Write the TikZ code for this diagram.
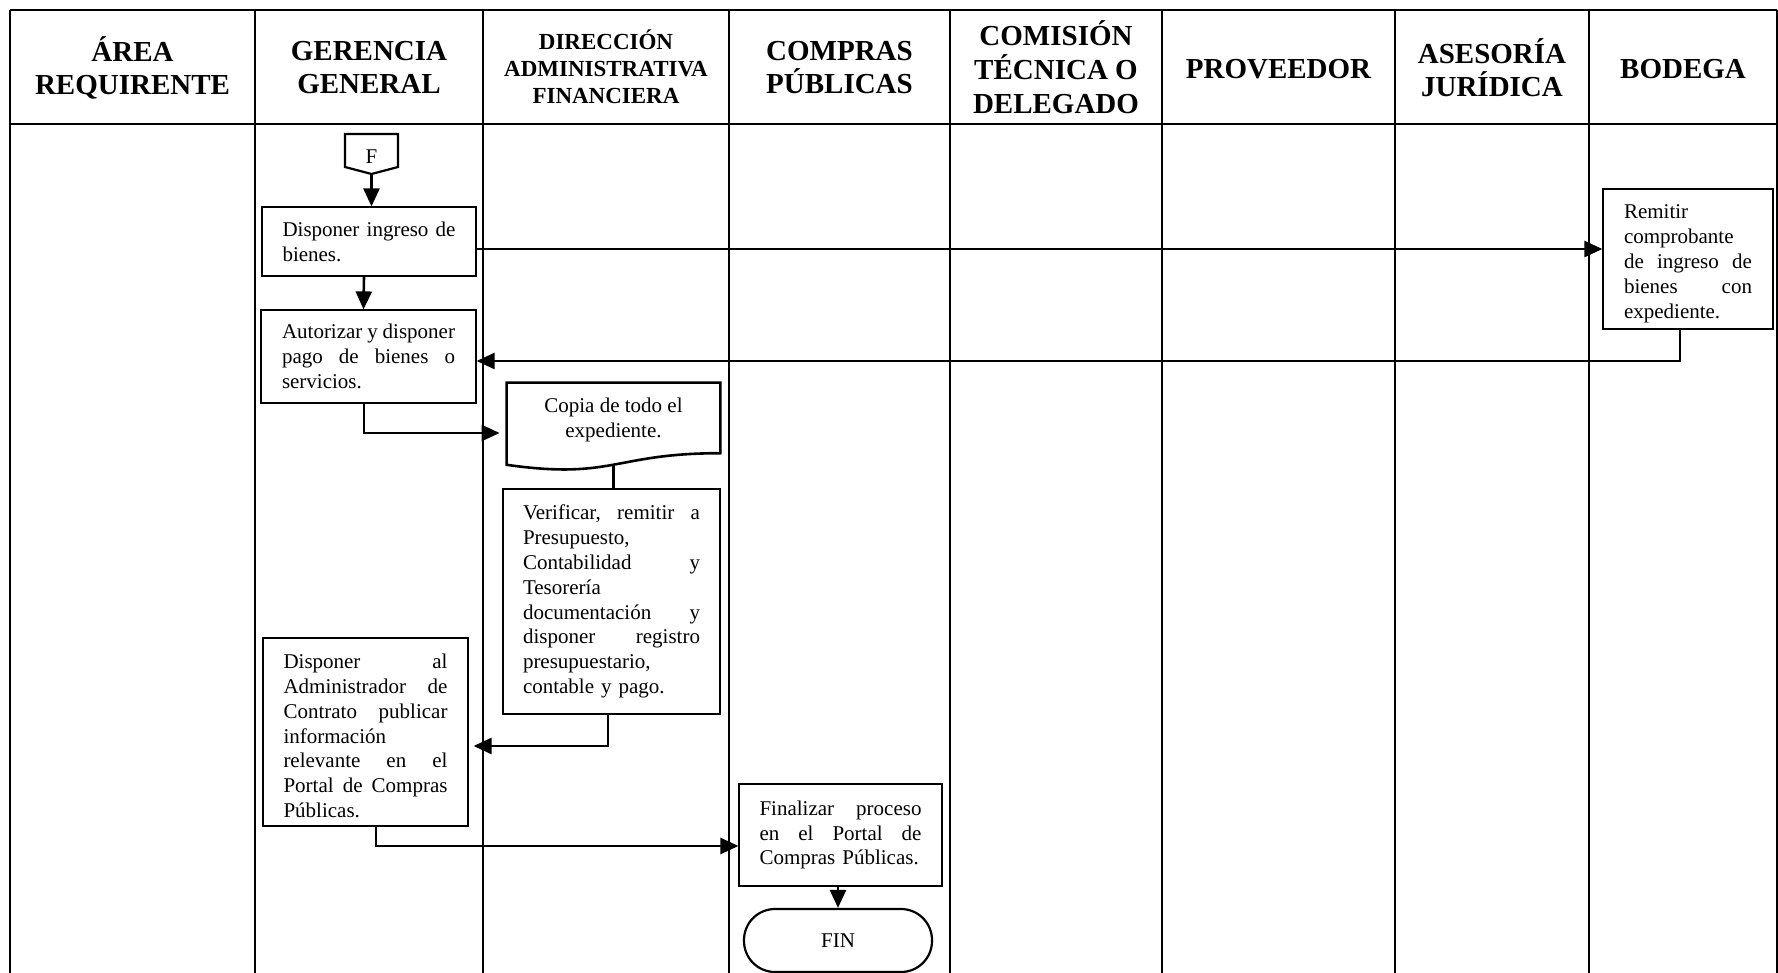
\documentclass[tikz,border=0pt]{standalone}
\usepackage{fontspec}
\setmainfont{Liberation Serif}
\usetikzlibrary{arrows.meta,calc}
% one justified line: words set apart with \hfill inside a box of the given width
\newcommand\jl[2]{\leavevmode\hbox to #1{#2}}

\begin{document}
\begin{tikzpicture}[x=0.5pt,y=-0.5pt,
  grid/.style={line width=1.2pt},
  hdr/.style={font=\bfseries\fontsize{14.5pt}{16.5pt}\selectfont, align=center, inner sep=0pt},
  hdrs/.style={font=\bfseries\fontsize{11.5pt}{13.5pt}\selectfont, align=center, inner sep=0pt},
  task/.style={draw, line width=0.6pt, inner sep=0pt, align=left,
               font=\fontsize{10.5pt}{12.4pt}\selectfont},
  pushdown/.style={execute at begin node={\rule{0pt}{#1}}},
  flow/.style={line width=1.3pt, -{Triangle[length=9pt,width=8pt]}},
  link/.style={line width=1.3pt},
  docline/.style={line width=1.3pt},
]
\useasboundingbox (0,0) rectangle (1778,973);

% swimlane table
\draw[grid] (10,10) -- (1777,10);
\draw[grid] (10,124) -- (1777,124);
\foreach \cx in {10,255,483,729,950,1162,1395,1589,1777}
  \draw[grid] (\cx,10) -- (\cx,973);

% lane headings
\node[hdr]  (h1) at (132.5,68) {ÁREA\\REQUIRENTE};
\node[hdr]  (h2) at (369,68) {GERENCIA\\GENERAL};
\node[hdrs] (h3) at (606,67) {DIRECCIÓN\\ADMINISTRATIVA\\FINANCIERA};
\node[hdr]  (h4) at (839.5,68) {COMPRAS\\PÚBLICAS};
\node[hdr, font=\bfseries\fontsize{14.5pt}{17pt}\selectfont] (h5) at (1056,67) {COMISIÓN\\TÉCNICA O\\DELEGADO};
\node[hdr]  (h6) at (1278.5,69) {PROVEEDOR};
\node[hdr]  (h7) at (1492,68) {ASESORÍA\\JURÍDICA};
\node[hdr]  (h8) at (1683,69) {BODEGA};

% off-page connector F
\node[inner sep=0pt, font=\fontsize{10.5pt}{12.5pt}\selectfont] (F) at (371.5,157) {F};
\draw[line width=1.1pt] ($(F.center)+(-26.5,-23)$) -- ($(F.center)+(26.5,-23)$)
  -- ($(F.center)+(26.5,10)$) -- ($(F.center)+(0,17)$) -- ($(F.center)+(-26.5,10)$) -- cycle;
\coordinate (Fp) at ($(F.center)+(0,17)$);

% process boxes
\node[task, text width=86.5pt, minimum width=107pt, minimum height=34.5pt] (b1) at (369,241.5)
  {\jl{86.5pt}{Disponer\hfill ingreso\hfill de}\\bienes.};
\node[task, text width=86.5pt, minimum width=107.5pt, minimum height=46.5pt] (b2) at (368.5,356.5)
  {\jl{86.5pt}{Autorizar\hfill y\hfill disponer}\\\jl{86.5pt}{pago\hfill de\hfill bienes\hfill o}\\servicios.};
\node[task, text width=64pt, pushdown=11.7pt, minimum width=85pt, minimum height=70pt] (bod) at (1688,259)
  {Remitir\\comprobante\\\jl{64pt}{de\hfill ingreso\hfill de}\\\jl{64pt}{bienes\hfill con}\\expediente.};

% document symbol
\node[inner sep=0pt, minimum width=106.5pt, minimum height=44pt] (doc) at (613.5,427) {};
\draw[docline] (doc.north west) -- (doc.north east) -- ($(doc.north east)+(0,70.6)$)
  .. controls ($(doc.north)+(0,70.6)$) and ($(doc.north)+(0,97.4)$) .. ($(doc.north west)+(0,82.2)$)
  -- cycle;
\node[inner sep=0pt, align=center, font=\fontsize{10.5pt}{12.5pt}\selectfont] (doctext)
  at ([yshift=3.7pt]doc.center) {Copia de todo el\\expediente.};
\coordinate (docbot) at ($(doc.north)+(0,82)$);

\node[task, text width=88.5pt, minimum width=108.5pt, minimum height=112.5pt] (b3) at (611.5,601.5)
  {\jl{88.5pt}{Verificar,\hfill remitir\hfill a}\\Presupuesto,\\\jl{88.5pt}{Contabilidad\hfill y}\\Tesorería\\%
   \jl{88.5pt}{documentación\hfill y}\\\jl{88.5pt}{disponer\hfill registro}\\presupuestario,\\contable y pago.};
\node[task, text width=82pt, pushdown=11.2pt, minimum width=102.5pt, minimum height=94pt] (b4) at (365.5,732)
  {\jl{82pt}{Disponer\hfill al}\\\jl{82pt}{Administrador\hfill de}\\\jl{82pt}{Contrato\hfill publicar}\\información\\%
   \jl{82pt}{relevante\hfill en\hfill el}\\\jl{82pt}{Portal\hfill de\hfill Compras}\\Públicas.};
\node[task, text width=81pt, minimum width=101.5pt, minimum height=51pt] (b5) at (840.5,835)
  {\jl{81pt}{Finalizar\hfill proceso}\\\jl{81pt}{en\hfill el\hfill Portal\hfill de}\\Compras Públicas.};
\node[draw, line width=1.1pt, rounded corners=15.5pt, minimum width=94pt, minimum height=31.5pt,
      inner sep=0pt, font=\fontsize{10.5pt}{12.5pt}\selectfont] (fin) at (838,940.5) {FIN};

% connectors
\draw[flow] (Fp) -- (Fp |- b1.north);
\draw[flow] ([xshift=-2.5pt]b1.south) -- ([xshift=-2.5pt]b2.north);
\draw[flow] ([yshift=-3.75pt]b1.east) -- ([yshift=-3.75pt]b1.east -| bod.west);
\draw[flow] ([xshift=-4pt]bod.south) |- ([yshift=-2.25pt]b2.east);
\draw[flow, shorten >=3.5pt] ([xshift=-2.25pt]b2.south) |- ([yshift=-3pt]doc.west);
\draw[link] (docbot) -- (docbot |- b3.north);
\draw[flow, shorten >=2.5pt] ([xshift=-1.75pt]b3.south) |- ([yshift=-7pt]b4.east);
\draw[flow] ([xshift=5.25pt]b4.south) |- ([yshift=-5.5pt]b5.west);
\draw[flow] (b5.south -| fin.north) -- (fin.north);
\end{tikzpicture}
\end{document}
